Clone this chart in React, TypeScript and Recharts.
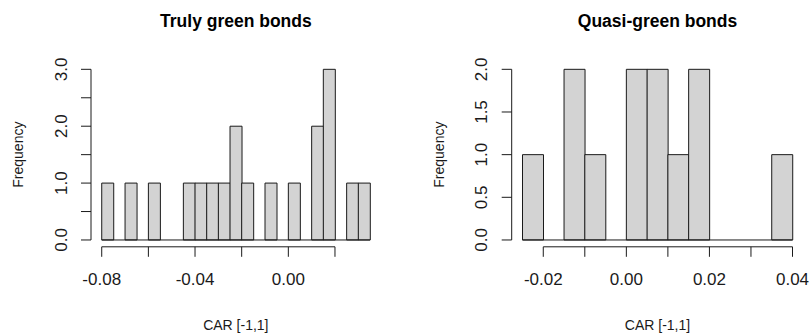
import { Bar, BarChart, ReferenceLine, XAxis, YAxis } from "recharts";

// histogram bins (bin edges + counts)
const greenBreaks = [
  -0.08, -0.075, -0.07, -0.065, -0.06, -0.055, -0.05, -0.045, -0.04, -0.035,
  -0.03, -0.025, -0.02, -0.015, -0.01, -0.005, 0, 0.005, 0.01, 0.015, 0.02,
  0.025, 0.03, 0.035,
];
const greenCounts = [1, 0, 1, 0, 1, 0, 0, 1, 1, 1, 1, 2, 1, 0, 1, 0, 1, 0, 2, 3, 0, 1, 1];
const greenXTicks = [-0.08, -0.06, -0.04, -0.02, 0, 0.02];
const greenYTicks = [0, 0.5, 1, 1.5, 2, 2.5, 3];

const quasiBreaks = [
  -0.025, -0.02, -0.015, -0.01, -0.005, 0, 0.005, 0.01, 0.015, 0.02, 0.025,
  0.03, 0.035, 0.04,
];
const quasiCounts = [1, 0, 2, 1, 0, 2, 2, 1, 2, 0, 0, 0, 1];
const quasiXTicks = [-0.02, -0.01, 0, 0.01, 0.02, 0.03, 0.04];
const quasiYTicks = [0, 0.5, 1, 1.5, 2];

const FONT = "'Liberation Sans', Arial, Helvetica, sans-serif";
const INK = "#1a1a1a";
const HEIGHT = 336;
const PLOT_TOP = 62.5;
const PLOT_BOTTOM = 246.8;

type TickProps = {
  x?: number;
  y?: number;
  index?: number;
  payload?: { value: number };
  every: number;
};

// R only labels every other tick when they would crowd
function XTick({ x = 0, y = 0, index = 0, payload, every }: TickProps) {
  if (!payload || index % every !== 0) return null;
  return (
    <text
      x={x}
      y={y}
      dy="0.71em"
      textAnchor="middle"
      fontSize={17}
      fontFamily={FONT}
      fill={INK}
    >
      {payload.value.toFixed(2)}
    </text>
  );
}

function YTick({ x = 0, y = 0, index = 0, payload, every }: TickProps) {
  if (!payload || index % every !== 0) return null;
  return (
    <text
      x={x}
      y={y}
      dy="0.36em"
      textAnchor="middle"
      transform={`rotate(-90, ${x}, ${y})`}
      fontSize={17}
      fontFamily={FONT}
      fill={INK}
    >
      {payload.value.toFixed(1)}
    </text>
  );
}

type HistProps = {
  breaks: number[];
  counts: number[];
  xTicks: number[];
  yTicks: number[];
  yLabelEvery: number;
  width: number;
  yAxisWidth: number;
  rightMargin: number;
  freqOffset: number;
};

function Histogram({
  breaks,
  counts,
  xTicks,
  yTicks,
  yLabelEvery,
  width,
  yAxisWidth,
  rightMargin,
  freqOffset,
}: HistProps) {
  const data = counts.map((count, i) => ({
    mid: (breaks[i] + breaks[i + 1]) / 2,
    count,
  }));
  const lo = breaks[0];
  const hi = breaks[breaks.length - 1];
  // R pads the axis ranges by 4%
  const xPad = (hi - lo) * 0.04;
  const xDomain = [lo - xPad, hi + xPad];
  const top = Math.max(...counts);
  const yDomain = [-top * 0.04, top * 1.04];

  return (
    <BarChart
      width={width}
      height={HEIGHT}
      data={data}
      barCategoryGap={0}
      barGap={0}
      margin={{ top: PLOT_TOP, right: rightMargin, bottom: 0, left: 0 }}
    >
      <XAxis
        type="number"
        dataKey="mid"
        domain={xDomain}
        allowDataOverflow
        ticks={xTicks}
        interval={0}
        axisLine={false}
        tickSize={10}
        tickMargin={16}
        tickLine={{ stroke: INK }}
        tick={<XTick every={2} />}
        height={HEIGHT - PLOT_BOTTOM}
        label={{
          value: "CAR [-1,1]",
          position: "insideBottom",
          offset: 6,
          fontSize: 14,
          fill: INK,
          fontFamily: FONT,
        }}
      />
      <YAxis
        type="number"
        domain={yDomain}
        allowDataOverflow
        ticks={yTicks}
        interval={0}
        width={yAxisWidth}
        axisLine={false}
        tickSize={10}
        tickMargin={20.5}
        tickLine={{ stroke: INK }}
        tick={<YTick every={yLabelEvery} />}
        label={{
          value: "Frequency",
          angle: -90,
          position: "insideLeft",
          offset: freqOffset,
          fontSize: 14,
          fill: INK,
          fontFamily: FONT,
          style: { textAnchor: "middle" },
        }}
      />
      {/* empty bins show as a flat line on the baseline */}
      <ReferenceLine
        segment={[
          { x: lo, y: 0 },
          { x: hi, y: 0 },
        ]}
        stroke={INK}
        ifOverflow="visible"
      />
      <Bar
        dataKey="count"
        fill="#d3d3d3"
        stroke={INK}
        strokeWidth={1}
        isAnimationActive={false}
      />
      {/* R style axis lines: only as long as the tick range */}
      <ReferenceLine
        segment={[
          { x: xTicks[0], y: yDomain[0] },
          { x: xTicks[xTicks.length - 1], y: yDomain[0] },
        ]}
        stroke={INK}
        ifOverflow="visible"
      />
      <ReferenceLine
        segment={[
          { x: xDomain[0], y: 0 },
          { x: xDomain[0], y: yTicks[yTicks.length - 1] },
        ]}
        stroke={INK}
        ifOverflow="visible"
      />
    </BarChart>
  );
}

export default function App() {
  return (
    <div
      style={{
        position: "absolute",
        left: 0,
        top: 0,
        width: 811,
        height: HEIGHT,
        background: "#fff",
      }}
    >
      <div style={{ position: "absolute", left: 0, top: 0 }}>
        <Histogram
          breaks={greenBreaks}
          counts={greenCounts}
          xTicks={greenXTicks}
          yTicks={greenYTicks}
          yLabelEvery={2}
          width={405}
          yAxisWidth={91}
          rightMargin={24.3}
          freqOffset={18}
        />
      </div>
      <div style={{ position: "absolute", left: 405, top: 0 }}>
        <Histogram
          breaks={quasiBreaks}
          counts={quasiCounts}
          xTicks={quasiXTicks}
          yTicks={quasiYTicks}
          yLabelEvery={1}
          width={406}
          yAxisWidth={106.7}
          rightMargin={7.7}
          freqOffset={34}
        />
      </div>
      <svg
        width={811}
        height={HEIGHT}
        style={{ position: "absolute", left: 0, top: 0, pointerEvents: "none" }}
      >
        <text
          x={235.9}
          y={27}
          textAnchor="middle"
          fontSize={17.5}
          fontWeight="bold"
          fontFamily={FONT}
          fill="#000"
        >
          Truly green bonds
        </text>
        <text
          x={657.5}
          y={27}
          textAnchor="middle"
          fontSize={17.5}
          fontWeight="bold"
          fontFamily={FONT}
          fill="#000"
        >
          Quasi-green bonds
        </text>
      </svg>
    </div>
  );
}
